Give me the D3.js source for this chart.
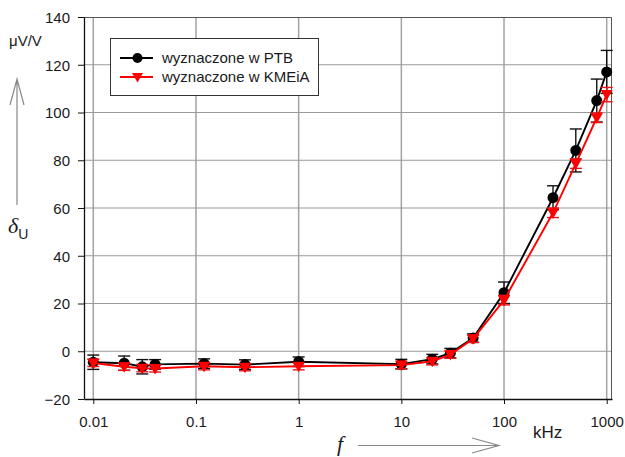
<!DOCTYPE html>
<html>
<head>
<meta charset="utf-8">
<script src="https://cdn.jsdelivr.net/npm/d3@7"></script>
<style>
  body { margin: 0; background: #fff; }
  text { font-family: "Liberation Sans", Arial, sans-serif; fill: #1a1a1a; }
</style>
</head>
<body>
<div class="chart"></div>
<script>
// data
var freq = [0.01, 0.02, 0.03, 0.04, 0.12, 0.3, 1, 10, 20, 30, 50, 100, 300, 500, 800, 1000];
var ptb = [-4.6, -5, -6.5, -5.5, -5.2, -5.6, -4.4, -5.4, -3.3, -0.8, 5.5, 24.5, 64.3, 84.1, 105, 117];
var ptbErr = [3, 3, 3, 2, 2, 2, 2, 2, 2, 2, 1.8, 4.5, 5, 9, 9, 9];
var kmeia = [-4.9, -6.5, -7.1, -7.2, -6.3, -6.7, -6.3, -5.8, -4.2, -1.4, 5.2, 21.4, 58, 78.6, 97.8, 107.5];
var kmeiaErr = [1.5, 1.5, 1.5, 1.5, 1.5, 1.5, 1.5, 1.5, 1.5, 1.5, 1.5, 2, 2, 2, 2, 3];
var xTicks = [0.01, 0.1, 1, 10, 100, 1000];
var xTickLabels = ["0.01", "0.1", "1", "10", "100", "1000"];
var yTicks = [-20, 0, 20, 40, 60, 80, 100, 120, 140];
var seriesNames = ["wyznaczone w PTB", "wyznaczone w KMEiA"];

var svgWidth = 625;
var svgHeight = 457;
var margin = { top: 17, right: 13, bottom: 58, left: 84 };
var width = svgWidth - margin.left - margin.right;
var height = svgHeight - margin.top - margin.bottom;

var svg = d3.select(".chart")
  .append("svg")
  .attr("width", svgWidth)
  .attr("height", svgHeight);

var chartGroup = svg.append("g")
  .attr("transform", `translate(${margin.left}, ${margin.top})`);

// scales
var xScale = d3.scaleLog().domain([0.00812, 1126]).range([0, width]);
var yScale = d3.scaleLinear().domain([-20, 140]).range([height, 0]);

// grid
chartGroup.selectAll(".vgrid")
  .data(xTicks)
  .enter()
  .append("line")
  .attr("x1", d => xScale(d))
  .attr("x2", d => xScale(d))
  .attr("y1", 0)
  .attr("y2", height)
  .attr("stroke", "#a3a3a3")
  .attr("stroke-width", 1.5);

chartGroup.selectAll(".hgrid")
  .data(yTicks.slice(1, -1))
  .enter()
  .append("line")
  .attr("x1", 0)
  .attr("x2", width)
  .attr("y1", d => yScale(d))
  .attr("y2", d => yScale(d))
  .attr("stroke", "#9a9a9a")
  .attr("stroke-width", 1.2);

// frame top / right
chartGroup.append("path")
  .attr("d", `M0,0.5H${width - 0.5}V${height}`)
  .attr("fill", "none")
  .attr("stroke", "#555")
  .attr("stroke-width", 1);

// axes
var bottomAxis = d3.axisBottom(xScale)
  .tickValues(xTicks)
  .tickFormat((d, i) => xTickLabels[i])
  .tickSizeInner(5)
  .tickSizeOuter(0)
  .tickPadding(12);
var leftAxis = d3.axisLeft(yScale)
  .tickValues(yTicks)
  .tickSizeInner(6)
  .tickSizeOuter(0)
  .tickPadding(8);

var xAxisG = chartGroup.append("g")
  .attr("transform", `translate(0,${height})`)
  .call(bottomAxis);
var yAxisG = chartGroup.append("g").call(leftAxis);

[xAxisG, yAxisG].forEach(function(g) {
  g.selectAll("path").attr("stroke", "#111").attr("stroke-width", 1.3);
  g.selectAll("line").attr("stroke", "#111");
  g.selectAll("text").style("font-size", "15px").attr("fill", "#1a1a1a");
});
yAxisG.selectAll("text").attr("dy", "0.35em");

// series
var ptbData = freq.map((f, i) => ({ f: f, v: ptb[i], e: ptbErr[i] }));
var kmeiaData = freq.map((f, i) => ({ f: f, v: kmeia[i], e: kmeiaErr[i] }));

var line = d3.line()
  .x(d => xScale(d.f))
  .y(d => yScale(d.v));

function errorBars(data, color) {
  var g = chartGroup.append("g").attr("stroke", color).attr("stroke-width", 1.4);
  data.forEach(function(d) {
    var x = xScale(d.f);
    var y1 = yScale(d.v + d.e);
    var y2 = yScale(d.v - d.e);
    g.append("line").attr("x1", x).attr("x2", x).attr("y1", y1).attr("y2", y2);
    g.append("line").attr("x1", x - 6).attr("x2", x + 6).attr("y1", y1).attr("y2", y1);
    g.append("line").attr("x1", x - 6).attr("x2", x + 6).attr("y1", y2).attr("y2", y2);
  });
}

// black series first
errorBars(ptbData, "#111");
chartGroup.append("path")
  .datum(ptbData)
  .attr("d", line)
  .attr("fill", "none")
  .attr("stroke", "#000")
  .attr("stroke-width", 1.9);
chartGroup.selectAll(".ptb")
  .data(ptbData)
  .enter()
  .append("circle")
  .attr("cx", d => xScale(d.f))
  .attr("cy", d => yScale(d.v))
  .attr("r", 5.5)
  .attr("fill", "#000");

// red series on top
errorBars(kmeiaData, "#e8141b");
chartGroup.append("path")
  .datum(kmeiaData)
  .attr("d", line)
  .attr("fill", "none")
  .attr("stroke", "#ff0000")
  .attr("stroke-width", 1.9);

var tri = "M-6,-4.5L6,-4.5L0,6Z";
chartGroup.selectAll(".kmeia")
  .data(kmeiaData)
  .enter()
  .append("path")
  .attr("d", tri)
  .attr("transform", d => `translate(${xScale(d.f)},${yScale(d.v)})`)
  .attr("fill", "#ff0000");

// legend
var legend = svg.append("g").attr("transform", "translate(110,38)");
legend.append("rect")
  .attr("x", 0.5).attr("y", 0.5)
  .attr("width", 208).attr("height", 57)
  .attr("fill", "#fff")
  .attr("stroke", "#333")
  .attr("stroke-width", 1);

var legendRows = legend.selectAll(".row")
  .data(seriesNames)
  .enter()
  .append("g")
  .attr("transform", (d, i) => `translate(0,${20 + i * 19})`);

legendRows.append("line")
  .attr("x1", 10).attr("x2", 43)
  .attr("stroke", (d, i) => i == 0 ? "#000" : "#ff0000")
  .attr("stroke-width", 1.9);
legendRows.each(function(d, i) {
  var g = d3.select(this);
  if (i == 0) {
    g.append("circle").attr("cx", 27.5).attr("r", 5).attr("fill", "#000");
  } else {
    g.append("path").attr("d", "M-5.5,-4L5.5,-4L0,5.5Z").attr("transform", "translate(27.5,0)").attr("fill", "#ff0000");
  }
});
legendRows.append("text")
  .attr("x", 52)
  .attr("dy", "0.35em")
  .style("font-size", "15px")
  .text(d => d);

// axis labels
svg.append("text")
  .attr("x", 9)
  .attr("y", 46)
  .style("font-size", "15px")
  .text("\u03bcV/V");

// vertical arrow
svg.append("path")
  .attr("d", "M17,205V79M10,105L17,79L24,105")
  .attr("fill", "none")
  .attr("stroke", "#888")
  .attr("stroke-width", 1.2);

var delta = svg.append("text")
  .attr("x", 8)
  .attr("y", 233);
delta.append("tspan")
  .style("font-family", "'Liberation Serif', 'Times New Roman', serif")
  .style("font-style", "italic")
  .style("font-size", "22px")
  .text("\u03b4");
delta.append("tspan")
  .attr("dy", 6)
  .style("font-size", "14px")
  .text("U");

// horizontal arrow
svg.append("text")
  .attr("x", 337)
  .attr("y", 451)
  .style("font-family", "'Liberation Serif', 'Times New Roman', serif")
  .style("font-style", "italic")
  .style("font-size", "22px")
  .text("f");
svg.append("path")
  .attr("d", "M358,445.5H499M472,438L499,445.5L472,453")
  .attr("fill", "none")
  .attr("stroke", "#888")
  .attr("stroke-width", 1.2);

svg.append("text")
  .attr("x", 533)
  .attr("y", 438)
  .style("font-size", "17px")
  .text("kHz");
</script>
</body>
</html>
